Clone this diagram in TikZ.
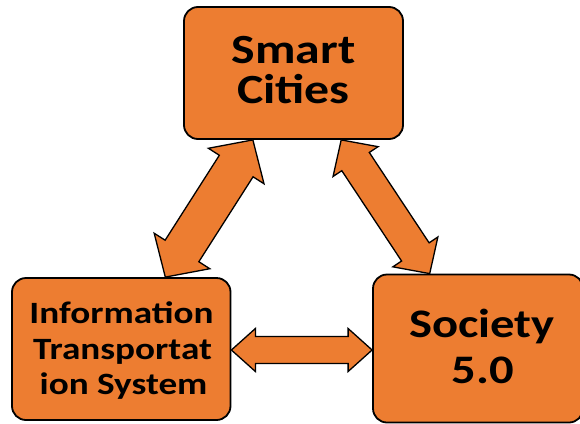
\documentclass[tikz,border=0pt]{standalone}
\usepackage{fontspec}
\newfontfamily\boxfont[FakeStretch=1.2]{Carlito}
\usetikzlibrary{calc}
\definecolor{boxorange}{HTML}{ED7D31}
\tikzset{
  boxshape/.style={draw=black, line width=1.8pt, fill=boxorange, rounded corners=14pt, inner sep=0pt},
  fatarrow/.style={draw=black, line width=1.3pt, fill=boxorange, line join=miter},
  lbl/.style={anchor=base, inner sep=0pt, text=black},
  bigfont/.style={font=\boxfont\bfseries\fontsize{41.5}{48}\selectfont},
  midfont/.style={font=\boxfont\bfseries\fontsize{40.5}{48}\selectfont},
  smallfont/.style={font=\boxfont\bfseries\fontsize{31}{36}\selectfont}
}
\newcommand\fatlink[6]{%
  \coordinate (#1a) at ($(#2)!#6!(#3)$);
  \coordinate (#1b) at ($(#3)!#6!(#2)$);
  \draw[fatarrow] (#2) -- ($(#1a)!#5!90:(#3)$) -- ($(#1a)!#4!90:(#3)$)
    -- ($(#1b)!#4!-90:(#2)$) -- ($(#1b)!#5!-90:(#2)$) -- (#3)
    -- ($(#1b)!#5!90:(#2)$) -- ($(#1b)!#4!90:(#2)$)
    -- ($(#1a)!#4!-90:(#3)$) -- ($(#1a)!#5!-90:(#3)$) -- cycle;
}
\begin{document}
\begin{tikzpicture}[x=1pt,y=-1pt]
\useasboundingbox (0,0) rectangle (580,423);
% boxes
\node[boxshape, minimum width=219pt, minimum height=132pt] (sc) at (293.5,73) {};
\node[boxshape, minimum width=218.5pt, minimum height=142pt] (its) at (121.25,349) {};
\node[boxshape, minimum width=210pt, minimum height=148pt] (so) at (478,348.5) {};
% arrow end points on the boxes
\coordinate (scl) at ($(sc.south west)!0.316!(sc.south east)$);
\coordinate (scr) at ($(sc.south west)!0.716!(sc.south east)$);
\coordinate (itst) at ($(its.north west)!0.70!(its.north east)$);
\coordinate (sot) at ($(so.north west)!0.272!(so.north east)$);
\coordinate (itse) at ($(its.east)+(0,1)$);
\coordinate (sow) at ($(so.west)+(0,1.5)$);
% double arrows
\fatlink{la}{scl}{itst}{20pt}{33pt}{31pt}
\fatlink{ra}{scr}{sot}{16.5pt}{27pt}{26pt}
\fatlink{ha}{itse}{sow}{13.5pt}{21.5pt}{24pt}
% texts
\node[lbl, bigfont] (sc1) at (293.5,63) {Smart};
\node[lbl, bigfont] (sc2) at (293.5,103) {Cities};
\node[lbl, midfont] (so1) at (482,337) {Society};
\node[lbl, midfont] (so2) at (483,383) {5.0};
\node[lbl, smallfont] (it1) at (121.5,323) {Information};
\node[lbl, smallfont] (it2) at (122.5,359) {Transportat};
\node[lbl, smallfont] (it3) at (123.5,394) {ion System};
\end{tikzpicture}
\end{document}
